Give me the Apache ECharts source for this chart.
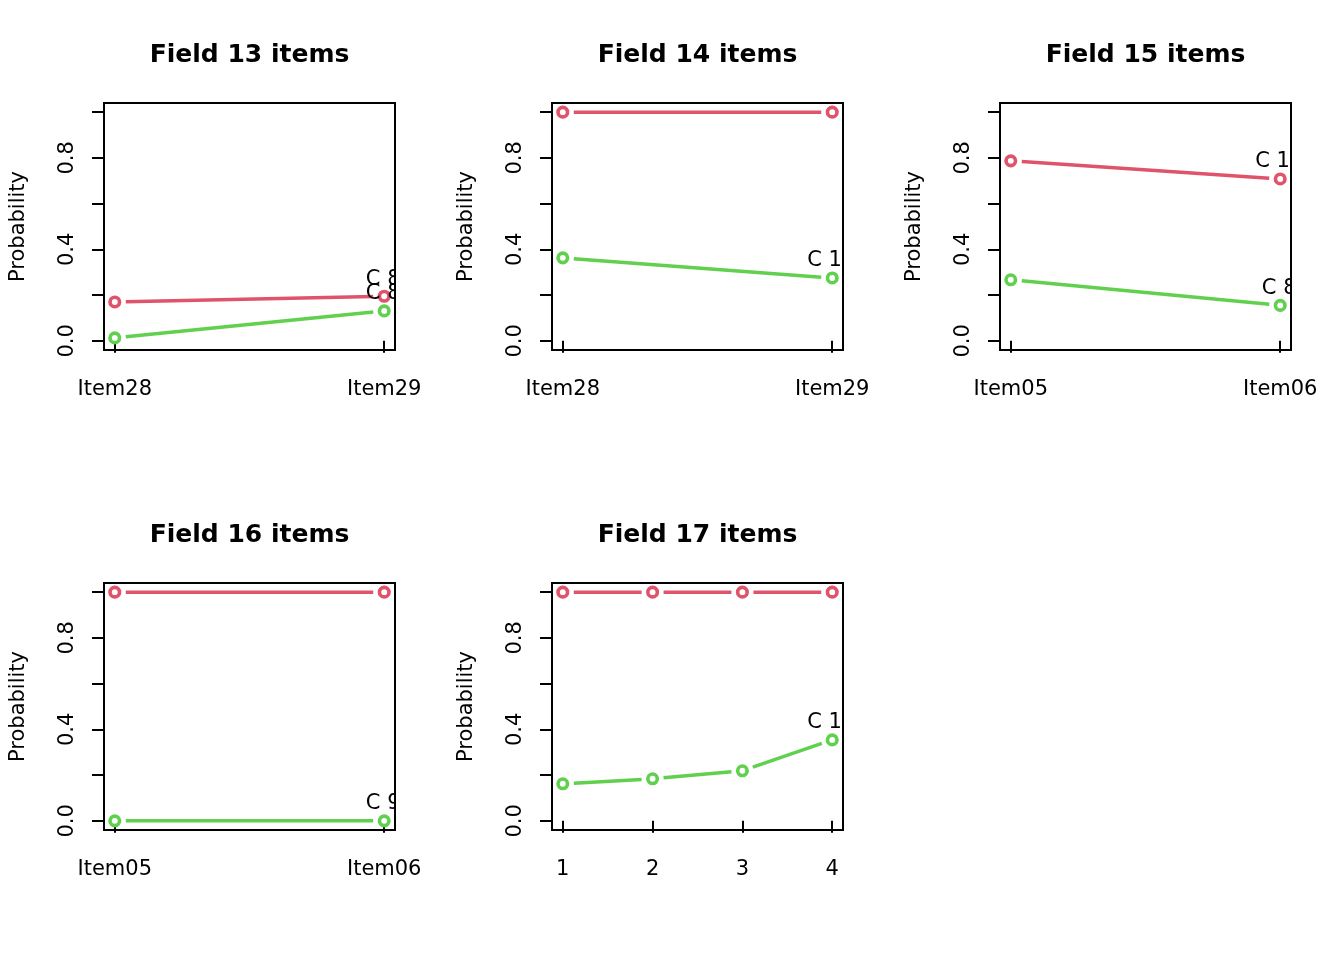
<!DOCTYPE html>
<html><head><meta charset="utf-8">
<script src="https://cdn.jsdelivr.net/npm/echarts@6/dist/echarts.min.js"></script>
<style>html,body{margin:0;padding:0;background:#fff}#c{width:1344px;height:960px}</style>
</head><body><div id="c"></div>
<script>
// ---- data ----
const panelTitles = ['Field 13 items', 'Field 14 items', 'Field 15 items', 'Field 16 items', 'Field 17 items'];
const itemsField13 = ['Item28', 'Item29'];
const itemsField14 = ['Item28', 'Item29'];
const itemsField15 = ['Item05', 'Item06'];
const itemsField16 = ['Item05', 'Item06'];
const itemsField17 = ['1', '2', '3', '4'];
const field13Red = [0.170, 0.195];
const field13Green = [0.013, 0.131];
const field14Red = [1.0, 1.0];
const field14Green = [0.363, 0.275];
const field15Red = [0.787, 0.708];
const field15Green = [0.267, 0.155];
const field16Red = [1.0, 1.0];
const field16Green = [0.0, 0.0];
const field17Red = [1.0, 1.0, 1.0, 1.0];
const field17Green = [0.162, 0.184, 0.219, 0.354];
const endLabelsRed = ['C 8', 'C 10', 'C 10', 'C 9', 'C 10'];
const endLabelsGreen = ['C 8', 'C 10', 'C 8', 'C 9', 'C 10'];
const yTickValues = [0, 0.2, 0.4, 0.6, 0.8, 1.0];
const yLabelValues = [0, 0.4, 0.8];
const yLabelTexts = ['0.0', '0.4', '0.8'];
const yAxisName = 'Probability';

// ---- layout / style ----
const RED = '#DF536B', GREEN = '#61D04F';
const FONT = 'DejaVu Sans';
const FS = 21;
const GAP = 11;
const panels = [
  {items: itemsField13, red: field13Red, green: field13Green},
  {items: itemsField14, red: field14Red, green: field14Green},
  {items: itemsField15, red: field15Red, green: field15Green},
  {items: itemsField16, red: field16Red, green: field16Green},
  {items: itemsField17, red: field17Red, green: field17Green}
];
const colLefts = [104, 552, 1000];
const rowTops = [103, 583];
const W = 291, H = 247;

const grids = [], xAxes = [], yAxes = [], series = [], titles = [];

function segSeries(pi, vals, color) {
  const data = [];
  for (let i = 0; i < vals.length - 1; i++) data.push([i + 1, vals[i], i + 2, vals[i + 1]]);
  return {
    type: 'custom', xAxisIndex: pi, yAxisIndex: pi, data: data, clip: true, z: 2, silent: true,
    encode: {x: [0, 2], y: [1, 3]},
    renderItem: function (params, api) {
      const p1 = api.coord([api.value(0), api.value(1)]);
      const p2 = api.coord([api.value(2), api.value(3)]);
      const dx = p2[0] - p1[0], dy = p2[1] - p1[1];
      const L = Math.hypot(dx, dy);
      if (L <= 2 * GAP) return null;
      const ux = dx / L, uy = dy / L;
      return {
        type: 'line',
        shape: {x1: p1[0] + ux * GAP, y1: p1[1] + uy * GAP, x2: p2[0] - ux * GAP, y2: p2[1] - uy * GAP},
        style: {stroke: color, lineWidth: 3.5, lineCap: 'butt'}
      };
    }
  };
}

function ringSeries(pi, vals, color) {
  return {
    type: 'scatter', xAxisIndex: pi, yAxisIndex: pi, z: 3, silent: true, clip: false,
    data: vals.map((v, i) => [i + 1, v]),
    symbol: 'circle', symbolSize: 9.5,
    itemStyle: {color: '#fff', borderColor: color, borderWidth: 3.6, opacity: 1}
  };
}

function labelSeries(pi, vals, text) {
  const n = vals.length;
  return {
    type: 'custom', xAxisIndex: pi, yAxisIndex: pi, z: 4, silent: true, clip: true,
    data: [[n, vals[n - 1]]],
    renderItem: function (params, api) {
      const p = api.coord([api.value(0), api.value(1)]);
      return {
        type: 'text', x: p[0] - 1, y: p[1] - 17,
        style: {text: text, fill: '#000', font: FS + 'px "' + FONT + '"', align: 'center', verticalAlign: 'middle'}
      };
    }
  };
}

panels.forEach((p, i) => {
  const left = colLefts[i % 3], top = rowTops[Math.floor(i / 3)];
  const n = p.items.length;
  grids.push({left: left, top: top, width: W, height: H, show: true, borderColor: '#000', borderWidth: 2, backgroundColor: 'transparent', containLabel: false});
  titles.push({
    text: panelTitles[i], left: left + W / 2, top: top - 60, textAlign: 'center', padding: 0,
    textStyle: {fontFamily: FONT, fontSize: 25, fontWeight: 'bold', color: '#000'}
  });
  const ext = 0.04 * (n - 1);
  const xVals = p.items.map((_, k) => k + 1);
  xAxes.push({
    gridIndex: i, type: 'value', min: 1 - ext, max: n + ext,
    axisLine: {show: false}, splitLine: {show: false},
    axisTick: {show: true, length: 12, lineStyle: {color: '#000', width: 2}, customValues: xVals},
    axisLabel: {customValues: xVals, formatter: v => p.items[Math.round(v) - 1], margin: 29,
      fontSize: FS, color: '#000', fontFamily: FONT}
  });
  yAxes.push({
    gridIndex: i, type: 'value', min: -0.04, max: 1.04,
    name: yAxisName, nameLocation: 'middle', nameGap: 75,
    nameTextStyle: {fontSize: FS, color: '#000', fontFamily: FONT},
    axisLine: {show: false}, splitLine: {show: false},
    axisTick: {show: true, length: 12, lineStyle: {color: '#000', width: 2}, customValues: yTickValues},
    axisLabel: {customValues: yLabelValues, rotate: 90, margin: 26,
      formatter: v => yLabelTexts[yLabelValues.findIndex(t => Math.abs(t - v) < 1e-9)],
      fontSize: FS, color: '#000', fontFamily: FONT}
  });
  series.push(segSeries(i, p.red, RED));
  series.push(segSeries(i, p.green, GREEN));
  series.push(ringSeries(i, p.red, RED));
  series.push(ringSeries(i, p.green, GREEN));
  series.push(labelSeries(i, p.red, endLabelsRed[i]));
  series.push(labelSeries(i, p.green, endLabelsGreen[i]));
});

const chart = echarts.init(document.getElementById('c'), null, {renderer: 'canvas'});
chart.setOption({
  backgroundColor: '#fff',
  animation: false,
  title: titles,
  grid: grids,
  xAxis: xAxes,
  yAxis: yAxes,
  series: series
});
</script>
</body></html>
